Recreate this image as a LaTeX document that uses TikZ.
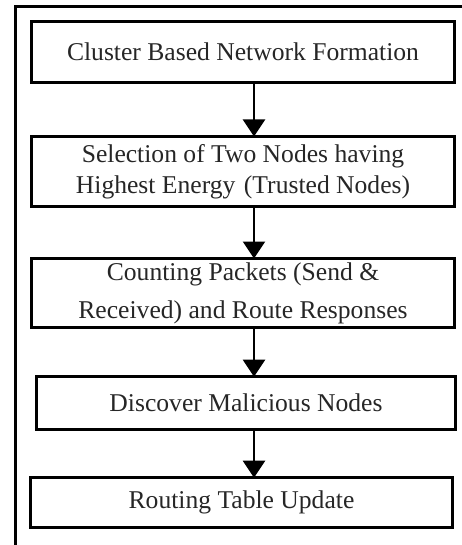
\documentclass[tikz,border=0pt]{standalone}
\usepackage{fontspec}
\setmainfont{Liberation Serif}
\usetikzlibrary{positioning, arrows.meta}

\begin{document}
\begin{tikzpicture}[
  font=\fontsize{12.8pt}{15.5pt}\selectfont,
  >={Triangle[width=11pt,length=8.5pt]},
  stepbox/.style={draw, line width=1.5pt, outer sep=0pt, minimum width=211.5pt, align=center, inner sep=2pt, text=black!85},
  arr/.style={->, line width=1.1pt},
  frame/.style={line width=1.5pt}
]
\useasboundingbox (0,0) rectangle (230.5pt,-272.5pt);

% outer frame (right and bottom sides run off the picture)
\draw[frame] (7.5pt,-275pt) |- (233pt,-3.5pt);

\node[stepbox, minimum height=30.5pt] (form) at (121.5pt,-26pt) {Cluster Based Network Formation};
\node[stepbox, minimum height=35pt, below=27pt of form] (trust) {Selection of Two Nodes having\\Highest Energy\,\,(Trusted Nodes)};
\node[stepbox, minimum height=34.5pt, below=26pt of trust, font=\fontsize{12.8pt}{19pt}\selectfont] (count) {Counting Packets (Send \&\\Received) and Route Responses};
\node[stepbox, minimum height=26.5pt, minimum width=209.5pt, below=24.5pt of count, xshift=1.5pt] (mal) {Discover Malicious Nodes};
\node[stepbox, minimum height=25pt, minimum width=211pt, below=24pt of mal, xshift=-2.25pt] (upd) {Routing Table Update};

\coordinate (col) at (127pt,0);
\draw[arr] (form.south -| col) -- (trust.north -| col);
\draw[arr] (trust.south -| col) -- (count.north -| col);
\draw[arr] (count.south -| col) -- (mal.north -| col);
\draw[arr] (mal.south -| col) -- (upd.north -| col);
\end{tikzpicture}
\end{document}
